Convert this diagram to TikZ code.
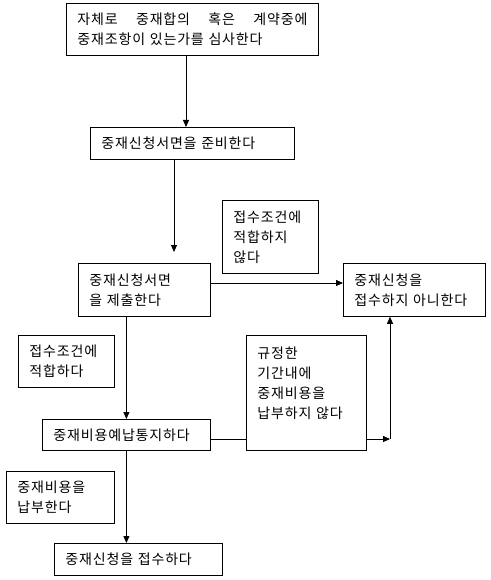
\documentclass[tikz,border=0pt]{standalone}
\usepackage{fontspec}
\newfontfamily\korfont[LetterSpace=6,WordSpace=2]{Noto Sans CJK KR}
\usetikzlibrary{arrows.meta}

\tikzset{
	stepbox/.style={draw, line width=0.8pt, inner xsep=11pt, inner ysep=0pt,
		align=left, anchor=north west, font=\korfont\fontsize{14}{20}\selectfont},
	flow/.style={line width=0.8pt, -{Triangle[length=7pt,width=6pt]}},
	link/.style={line width=0.8pt},
}

\begin{document}
\begin{tikzpicture}[x=1pt,y=-1pt]
		\useasboundingbox (0,0) rectangle (490,580);
		
		\node [stepbox, text width=230pt, minimum height=52pt] (check) at (66,3) {자체로\hfill 중재합의\hfill 혹은\hfill 계약중에\\중재조항이 있는가를 심사한다};
		\node [stepbox, text width=182pt, minimum height=32pt] (prepare) at (90,127) {중재신청서면을 준비한다};
		\node [stepbox, text width=110pt, minimum height=53pt] (submit) at (78,263) {중재신청서면\\을 제출한다};
		\node [stepbox, text width=120pt, minimum height=53pt] (reject) at (343,263) {중재신청을\\접수하지 아니한다};
		\node [stepbox, text width=74pt, minimum height=73pt] (unfit) at (222,200) {접수조건에\\적합하지\\않다};
		\node [stepbox, text width=74pt, minimum height=52pt] (fit) at (18,335) {접수조건에\\적합하다};
		\node [stepbox, text width=98pt, minimum height=115pt] (unpaid) at (246,335) {규정한\\기간내에\\중재비용을\\납부하지 않다\\\mbox{}};
		\node [stepbox, text width=146pt, minimum height=31pt] (notify) at (42,419) {중재비용예납통지하다};
		\node [stepbox, text width=86pt, minimum height=52pt] (paid) at (6,471) {중재비용을\\납부한다};
		\node [stepbox, text width=146pt, minimum height=32pt] (accept) at (54,543) {중재신청을 접수하다};
		
		\coordinate (c1) at (186,127);
		\coordinate (c2) at (174,252);
		\coordinate (c3) at (343,283);
		\coordinate (c4) at (390,439);
		
		\draw [flow] (c1 |- check.south) -- (c1);
		\draw [flow] (c2 |- prepare.south) -- (c2);
		\draw [flow] (submit.east |- c3) -- (c3);
		\draw [flow] (notify.north |- submit.south) -- (notify.north);
		\draw [flow] (notify.south) -- (notify.south |- accept.north);
		\draw [link] (notify.east |- c4) -- (unpaid.west |- c4);
		\draw [flow] (unpaid.east |- c4) -- (c4);
		\draw [flow] (c4) -- (c4 |- reject.south);
		
\end{tikzpicture}
\end{document}
